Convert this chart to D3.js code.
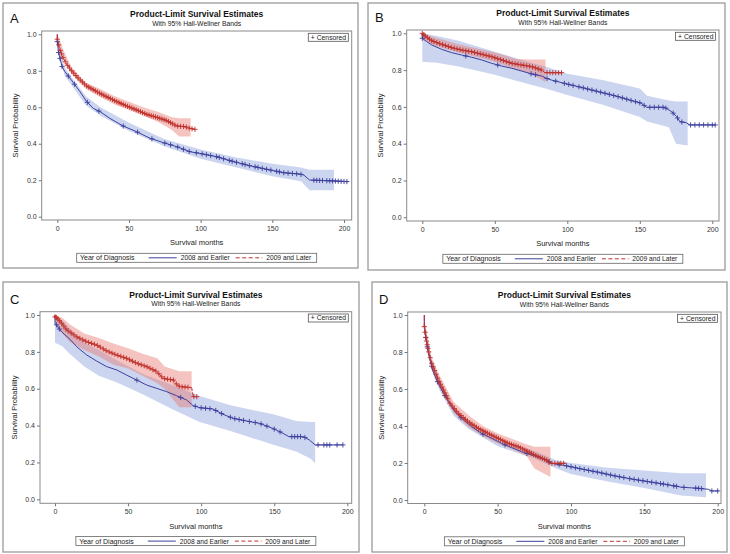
<!DOCTYPE html>
<html>
<head>
<meta charset="utf-8">
<script src="https://cdn.jsdelivr.net/npm/d3@7"></script>
<style>
body { margin: 0; background: #fff; }
svg { display: block; }
text { font-family: "Liberation Sans", Arial, sans-serif; }
</style>
</head>
<body>
<svg id="chart" width="730" height="554"></svg>
<script>
// ---- values (months, survival probability) ----
var xTicks = [0, 50, 100, 150, 200];
var yTicks = [0.0, 0.2, 0.4, 0.6, 0.8, 1.0];
var groupNames = ["2008 and Earlier", "2009 and Later"];

// Panel A
var aBlueT = [0, 0, 0.9, 1.9, 3.3, 5.3, 7.7, 11.2, 15.8, 20.5, 25.1, 29.8, 36.7, 46, 55.3, 64.7, 74, 83.3, 92.6, 99.5, 111, 123, 134, 146, 158, 169, 172, 176, 193, 203];
var aBlueS = [1.0, 0.96, 0.90, 0.868, 0.823, 0.795, 0.771, 0.735, 0.686, 0.631, 0.594, 0.576, 0.539, 0.497, 0.466, 0.430, 0.406, 0.384, 0.356, 0.347, 0.329, 0.302, 0.280, 0.260, 0.241, 0.234, 0.228, 0.201, 0.196, 0.192];
var aBlueBandT = [0, 5, 10, 20, 30, 50, 75, 100, 125, 150, 170, 176, 193];
var aBlueLo = [0.94, 0.775, 0.72, 0.61, 0.555, 0.47, 0.385, 0.318, 0.27, 0.222, 0.195, 0.145, 0.145];
var aBlueHi = [0.98, 0.82, 0.765, 0.66, 0.60, 0.515, 0.425, 0.368, 0.325, 0.29, 0.27, 0.258, 0.258];
var aBlueCens = [0, 0.9, 1.9, 3.3, 7.7, 12, 21, 29, 46, 56, 66, 75, 79, 84, 88, 92, 97, 101, 104, 107, 111, 113, 116, 120, 122, 125, 129, 131, 134, 138, 140, 143, 146, 149, 153, 155, 158, 161, 164, 167, 170, 179, 181, 183, 185, 188, 190, 192, 194, 196, 198, 200, 202];
var aRedT = [0, 0, 1.9, 4.2, 6.5, 10, 14.7, 20.5, 27.4, 34.4, 41.4, 48.4, 55.3, 62.3, 69.3, 76.3, 83.3, 89, 92.6, 96];
var aRedS = [1.0, 0.973, 0.914, 0.868, 0.835, 0.80, 0.759, 0.717, 0.686, 0.658, 0.631, 0.607, 0.585, 0.561, 0.545, 0.527, 0.497, 0.494, 0.484, 0.479];
var aRedBandT = [0, 5, 10, 20, 30, 40, 50, 60, 70, 80, 85, 93];
var aRedLo = [0.95, 0.86, 0.78, 0.70, 0.655, 0.615, 0.585, 0.555, 0.52, 0.475, 0.44, 0.44];
var aRedHi = [1.0, 0.90, 0.82, 0.735, 0.70, 0.66, 0.63, 0.60, 0.575, 0.545, 0.54, 0.54];
var aRedCens = [0, 1, 2, 3, 4, 5.5, 7, 8.5, 10, 11.5, 13, 14.5, 16, 17.5, 19, 20.5, 22, 23.5, 25, 26.5, 28, 29.5, 31, 32.5, 34, 35.5, 37, 38.5, 40, 41.5, 43, 44.5, 46, 47.5, 49, 50.5, 52, 53.5, 55, 56.5, 58, 59.5, 61, 62.5, 64, 65.5, 67, 68.5, 70, 71.5, 73, 74.5, 76, 77.5, 79, 80.5, 82, 84, 86, 88, 90, 92, 94, 96];

// Panel B
var bBlueT = [0, 0, 3, 6.4, 13.3, 20.2, 27, 34, 41, 47.8, 54.7, 61.6, 68.5, 75.4, 82.3, 85.7, 89, 98, 107.6, 116.8, 126, 135, 144.4, 151, 154.7, 167, 172, 175.4, 177.7, 182, 184.6, 202];
var bBlueS = [1.0, 0.973, 0.955, 0.937, 0.913, 0.895, 0.882, 0.870, 0.855, 0.837, 0.822, 0.810, 0.795, 0.779, 0.768, 0.755, 0.746, 0.728, 0.710, 0.692, 0.674, 0.656, 0.634, 0.620, 0.598, 0.598, 0.574, 0.547, 0.520, 0.514, 0.502, 0.502];
var bBlueBandT = [0, 10, 25, 50, 75, 85, 100, 125, 150, 155, 170, 175, 183];
var bBlueLo = [0.846, 0.84, 0.82, 0.775, 0.72, 0.70, 0.665, 0.61, 0.545, 0.52, 0.49, 0.40, 0.39];
var bBlueHi = [1.0, 0.985, 0.96, 0.90, 0.84, 0.82, 0.78, 0.745, 0.70, 0.66, 0.635, 0.63, 0.63];
var bBlueCens = [0, 30, 52, 75, 78, 86, 92, 98, 101, 104, 108, 111, 114, 117, 120, 123, 126, 129, 132, 135, 138, 141, 144, 147, 150, 153, 157, 160, 163, 166, 168, 173, 176, 179, 185, 188, 191, 194, 197, 200, 202];
var bRedT = [0, 1.8, 6.4, 13.3, 20.2, 27, 34, 41, 47.8, 54.7, 61.6, 68.5, 75.4, 82.3, 84.6, 96];
var bRedS = [1.0, 0.986, 0.960, 0.940, 0.922, 0.909, 0.900, 0.886, 0.873, 0.855, 0.837, 0.828, 0.819, 0.80, 0.786, 0.786];
var bRedBandT = [0, 10, 25, 50, 65, 75, 85];
var bRedLo = [0.965, 0.93, 0.895, 0.845, 0.80, 0.78, 0.735];
var bRedHi = [1.0, 0.975, 0.94, 0.895, 0.86, 0.858, 0.858];
var bRedCens = [0, 1, 2, 3.5, 5, 6.5, 8, 10, 12, 14, 16, 18, 20, 22, 24, 26, 28, 30, 32, 34, 36, 38, 40, 42, 44, 46, 48, 50, 52, 54, 56, 58, 60, 62, 64, 66, 68, 70, 72, 74, 76, 78, 80, 82, 86, 88, 90, 92, 94, 96];

// Panel C
var cBlueT = [0, 0, 1.1, 3.4, 6.8, 10.3, 14.8, 21.7, 28.5, 35.3, 42.2, 49, 55.9, 62.7, 69.6, 76.4, 83.2, 90, 94.6, 99.2, 108, 115, 122, 131, 140, 149, 156, 160, 170, 174, 178, 197];
var cBlueS = [1.0, 0.955, 0.946, 0.919, 0.892, 0.868, 0.828, 0.783, 0.750, 0.720, 0.702, 0.674, 0.647, 0.620, 0.602, 0.584, 0.562, 0.539, 0.508, 0.497, 0.490, 0.461, 0.439, 0.425, 0.412, 0.385, 0.358, 0.340, 0.340, 0.322, 0.295, 0.295];
var cBlueBandT = [0, 5, 10, 20, 30, 42, 60, 80, 99, 120, 150, 165, 175, 178];
var cBlueLo = [0.85, 0.83, 0.79, 0.72, 0.67, 0.635, 0.57, 0.49, 0.42, 0.37, 0.295, 0.26, 0.22, 0.195];
var cBlueHi = [0.99, 0.97, 0.93, 0.85, 0.81, 0.756, 0.68, 0.62, 0.56, 0.51, 0.46, 0.425, 0.42, 0.42];
var cBlueCens = [1, 3, 56, 86, 96, 100, 103, 106, 110, 114, 120, 123, 126, 129, 133, 137, 141, 145, 150, 154, 162, 164, 166, 168, 171, 180, 184, 186, 188, 193, 197];
var cRedT = [0, 0, 1.1, 4.6, 8, 14.8, 21.7, 28.5, 35.3, 42.2, 49, 55.9, 62.7, 69.6, 74, 81, 83.2, 85.5, 93.5, 94.6, 97];
var cRedS = [1.0, 0.99, 0.986, 0.955, 0.919, 0.882, 0.855, 0.837, 0.805, 0.783, 0.765, 0.738, 0.720, 0.693, 0.656, 0.647, 0.624, 0.611, 0.606, 0.557, 0.557];
var cRedBandT = [0, 5, 10, 20, 30, 40, 50, 60, 70, 75, 85, 93.5];
var cRedLo = [0.95, 0.90, 0.855, 0.81, 0.775, 0.73, 0.71, 0.67, 0.63, 0.60, 0.50, 0.50];
var cRedHi = [1.0, 0.985, 0.95, 0.90, 0.875, 0.845, 0.82, 0.79, 0.765, 0.72, 0.695, 0.695];
var cRedCens = [0, 1, 2, 3, 4.5, 6, 7.5, 9, 11, 13, 15, 17, 19, 21, 23, 25, 27, 29, 31, 33, 35, 37, 39, 41, 43, 45, 47, 49, 51, 53, 55, 57, 59, 61, 63, 65, 67, 69, 71, 73, 75, 77, 79, 81, 83, 85, 87, 89, 91, 95, 97];

// Panel D
var dBlueT = [0, 0, 0.9, 1.8, 2.7, 4.1, 6.1, 8.4, 11.8, 16.4, 20.9, 25.5, 32.3, 39, 46, 52.7, 59.5, 66.4, 73.2, 80, 86.8, 96, 107, 118.6, 130, 141, 152.7, 164, 175.5, 187, 193.6, 196, 200.5];
var dBlueS = [1.0, 0.946, 0.883, 0.838, 0.793, 0.748, 0.694, 0.649, 0.595, 0.532, 0.477, 0.441, 0.396, 0.360, 0.333, 0.306, 0.283, 0.261, 0.243, 0.225, 0.198, 0.186, 0.168, 0.150, 0.130, 0.114, 0.099, 0.085, 0.069, 0.063, 0.058, 0.049, 0.049];
var dBlueBandT = [0, 5, 10, 20, 30, 50, 75, 90, 100, 125, 150, 175, 192];
var dBlueLo = [0.92, 0.70, 0.60, 0.455, 0.385, 0.29, 0.225, 0.17, 0.14, 0.10, 0.065, 0.025, 0.015];
var dBlueHi = [0.97, 0.76, 0.66, 0.50, 0.43, 0.33, 0.265, 0.215, 0.20, 0.175, 0.16, 0.145, 0.145];
var dBlueCens = [1, 2, 5, 9, 14, 25, 40, 55, 70, 85, 92, 97, 100, 103, 106, 109, 112, 115, 118, 121, 124, 127, 130, 133, 136, 140, 143, 146, 149, 152, 155, 158, 161, 163, 166, 170, 172, 177, 185, 187, 189, 196, 200];
var dRedT = [0, 0, 0.9, 1.8, 3.2, 5, 7.3, 9.5, 13, 17.5, 23.2, 30, 36.8, 43.6, 50.5, 57.3, 64, 70.9, 77.7, 83.4, 86.8, 96];
var dRedS = [1.0, 0.937, 0.883, 0.847, 0.793, 0.739, 0.694, 0.649, 0.595, 0.523, 0.468, 0.423, 0.387, 0.36, 0.333, 0.306, 0.288, 0.261, 0.234, 0.216, 0.198, 0.198];
var dRedBandT = [0, 5, 10, 20, 30, 40, 50, 60, 70, 75, 86];
var dRedLo = [0.90, 0.71, 0.62, 0.47, 0.395, 0.345, 0.305, 0.275, 0.235, 0.17, 0.125];
var dRedHi = [0.98, 0.77, 0.68, 0.53, 0.46, 0.40, 0.36, 0.33, 0.30, 0.288, 0.288];
var dRedCens = [0, 0.5, 1, 1.5, 2, 2.5, 3, 4, 5, 6, 7, 8, 9, 10, 11, 12, 13, 14, 15, 16, 17.5, 19, 20.5, 22, 23.5, 25, 26.5, 28, 29.5, 31, 32.5, 34, 35.5, 37, 38.5, 40, 41.5, 43, 44.5, 46, 47.5, 49, 50.5, 52, 53.5, 55, 56.5, 58, 59.5, 61, 62.5, 64, 65.5, 67, 68.5, 70, 71.5, 73, 74.5, 76, 77.5, 79, 80.5, 82, 83.5, 85, 87, 89, 91, 93, 95];

var blueLine = "#3c409c", redLine = "#c0302b";
var blueBand = "#9aabe0", redBand = "#e8736a";

// layout of each panel on the page
var panels = [
    { letter: "A", box: [3, 3, 358, 268], frame: [41.7, 31, 351.7, 220], x0: 57.3, x200: 344, y0: 216.7, y1: 34.3,
      blue: [aBlueT, aBlueS, aBlueBandT, aBlueLo, aBlueHi, aBlueCens], red: [aRedT, aRedS, aRedBandT, aRedLo, aRedHi, aRedCens] },
    { letter: "B", box: [368, 3, 725, 270], frame: [406.7, 30, 719, 221], x0: 422.3, x200: 712.3, y0: 217.3, y1: 33.3,
      blue: [bBlueT, bBlueS, bBlueBandT, bBlueLo, bBlueHi, bBlueCens], red: [bRedT, bRedS, bRedBandT, bRedLo, bRedHi, bRedCens] },
    { letter: "C", box: [3, 282, 359, 552], frame: [40, 311.7, 351.7, 503.3], x0: 55, x200: 347.3, y0: 499.3, y1: 315,
      blue: [cBlueT, cBlueS, cBlueBandT, cBlueLo, cBlueHi, cBlueCens], red: [cRedT, cRedS, cRedBandT, cRedLo, cRedHi, cRedCens] },
    { letter: "D", box: [372, 282, 727, 552], frame: [407.7, 312, 721, 503.5], x0: 424.3, x200: 717.7, y0: 500, y1: 315,
      blue: [dBlueT, dBlueS, dBlueBandT, dBlueLo, dBlueHi, dBlueCens], red: [dRedT, dRedS, dRedBandT, dRedLo, dRedHi, dRedCens] }
];

function survAt(T, S, t) {
    var i = d3.bisectRight(T, t) - 1;
    if (i < 0) return S[0];
    if (i >= T.length - 1) return S[S.length - 1];
    var f = (t - T[i]) / (T[i + 1] - T[i]);
    return S[i] + f * (S[i + 1] - S[i]);
}

var svg = d3.select("#chart");

panels.forEach(function (p, k) {
    var g = svg.append("g");
    var L = p.frame[0], T = p.frame[1], R = p.frame[2], B = p.frame[3];
    var cx = (L + R) / 2;

    var x = d3.scaleLinear().domain([0, 200]).range([p.x0, p.x200]);
    var y = d3.scaleLinear().domain([0, 1]).range([p.y0, p.y1]);

    g.append("rect")
        .attr("x", p.box[0]).attr("y", p.box[1])
        .attr("width", p.box[2] - p.box[0]).attr("height", p.box[3] - p.box[1])
        .attr("fill", "#fff").attr("stroke", "#9a9a9a").attr("stroke-width", 1.3);

    g.append("text").attr("x", p.box[0] + 7).attr("y", T - 8)
        .attr("font-size", 13).attr("fill", "#111").text(p.letter);

    g.append("text").attr("x", cx).attr("y", T - 13.7).attr("text-anchor", "middle")
        .attr("font-size", 8.5).attr("font-weight", "bold").attr("fill", "#111")
        .text("Product-Limit Survival Estimates");
    g.append("text").attr("x", cx).attr("y", T - 5.3).attr("text-anchor", "middle")
        .attr("font-size", 6.8).attr("fill", "#222")
        .text("With 95% Hall-Wellner Bands");

    var clipId = "clip" + k;
    g.append("clipPath").attr("id", clipId).append("rect")
        .attr("x", L).attr("y", T).attr("width", R - L).attr("height", B - T);
    var plot = g.append("g").attr("clip-path", "url(#" + clipId + ")");

    var groups = [
        { d: p.blue, line: blueLine, band: blueBand },
        { d: p.red, line: redLine, band: redBand }
    ];

    groups.forEach(function (s, j) {
        var bt = s.d[2], lo = s.d[3], hi = s.d[4];
        var area = d3.area()
            .x(function (i) { return x(bt[i]); })
            .y0(function (i) { return y(lo[i]); })
            .y1(function (i) { return y(hi[i]); });
        plot.append("path").attr("d", area(d3.range(bt.length)))
            .attr("fill", s.band).attr("fill-opacity", j === 0 ? 0.5 : 0.42);
    });

    groups.forEach(function (s, j) {
        var tt = s.d[0], ss = s.d[1];
        var line = d3.line()
            .x(function (i) { return x(tt[i]); })
            .y(function (i) { return y(ss[i]); });
        plot.append("path").attr("d", line(d3.range(tt.length)))
            .attr("fill", "none").attr("stroke", s.line).attr("stroke-width", 1)
            .attr("stroke-dasharray", j === 1 ? "6,1.5" : null);
    });

    groups.forEach(function (s) {
        var tt = s.d[0], ss = s.d[1], cens = s.d[5];
        plot.append("g").selectAll("path").data(cens).enter().append("path")
            .attr("transform", function (c) { return "translate(" + x(c) + "," + y(survAt(tt, ss, c)) + ")"; })
            .attr("d", "M-2.6,0H2.6M0,-2.6V2.6")
            .attr("stroke", s.line).attr("stroke-width", 0.9).attr("fill", "none");
    });

    g.append("rect").attr("x", L).attr("y", T).attr("width", R - L).attr("height", B - T)
        .attr("fill", "none").attr("stroke", "#8a8a8a").attr("stroke-width", 1);

    var xAxis = g.append("g").attr("transform", "translate(0," + B + ")")
        .call(d3.axisBottom(x).tickValues(xTicks).tickSize(3).tickPadding(3).tickFormat(d3.format("d")));
    var yAxis = g.append("g").attr("transform", "translate(" + L + ",0)")
        .call(d3.axisLeft(y).tickValues(yTicks).tickSize(3).tickPadding(2).tickFormat(d3.format(".1f")));
    [xAxis, yAxis].forEach(function (a) {
        a.select(".domain").remove();
        a.selectAll("line").attr("stroke", "#777");
        a.selectAll("text").attr("font-size", 7).attr("fill", "#333")
            .attr("font-family", "'Liberation Sans', Arial, sans-serif");
    });

    g.append("text").attr("x", cx).attr("y", B + 25.3).attr("text-anchor", "middle")
        .attr("font-size", 7.5).attr("fill", "#222").text("Survival months");
    g.append("text").attr("transform", "translate(" + (L - 23.5) + "," + ((T + B) / 2) + ") rotate(-90)")
        .attr("text-anchor", "middle").attr("font-size", 7.5).attr("fill", "#222")
        .text("Survival Probability");

    // censored key
    var cb = g.append("g").attr("transform", "translate(" + (R - 43.4) + "," + (T + 2.3) + ")");
    cb.append("rect").attr("width", 40).attr("height", 8).attr("fill", "#fff")
        .attr("stroke", "#555").attr("stroke-width", 0.8);
    cb.append("text").attr("x", 2.5).attr("y", 6.4).attr("font-size", 6.8).attr("fill", "#222").text("+ Censored");

    // legend
    var lg = g.append("g").attr("transform", "translate(" + (cx - 120) + "," + (B + 33.3) + ")");
    lg.append("rect").attr("width", 240).attr("height", 9).attr("fill", "#fff")
        .attr("stroke", "#666").attr("stroke-width", 0.8);
    lg.append("text").attr("x", 3.3).attr("y", 7).attr("font-size", 7).attr("fill", "#222").text("Year of Diagnosis");
    lg.append("line").attr("x1", 72).attr("x2", 100).attr("y1", 4.5).attr("y2", 4.5)
        .attr("stroke", blueLine).attr("stroke-width", 1);
    lg.append("text").attr("x", 104).attr("y", 7).attr("font-size", 6.7).attr("fill", "#222").text(groupNames[0]);
    lg.append("line").attr("x1", 159).attr("x2", 185.7).attr("y1", 4.5).attr("y2", 4.5)
        .attr("stroke", redLine).attr("stroke-width", 1).attr("stroke-dasharray", "4,2.5");
    lg.append("text").attr("x", 189.5).attr("y", 7).attr("font-size", 6.7).attr("fill", "#222").text(groupNames[1]);
});
</script>
</body>
</html>
